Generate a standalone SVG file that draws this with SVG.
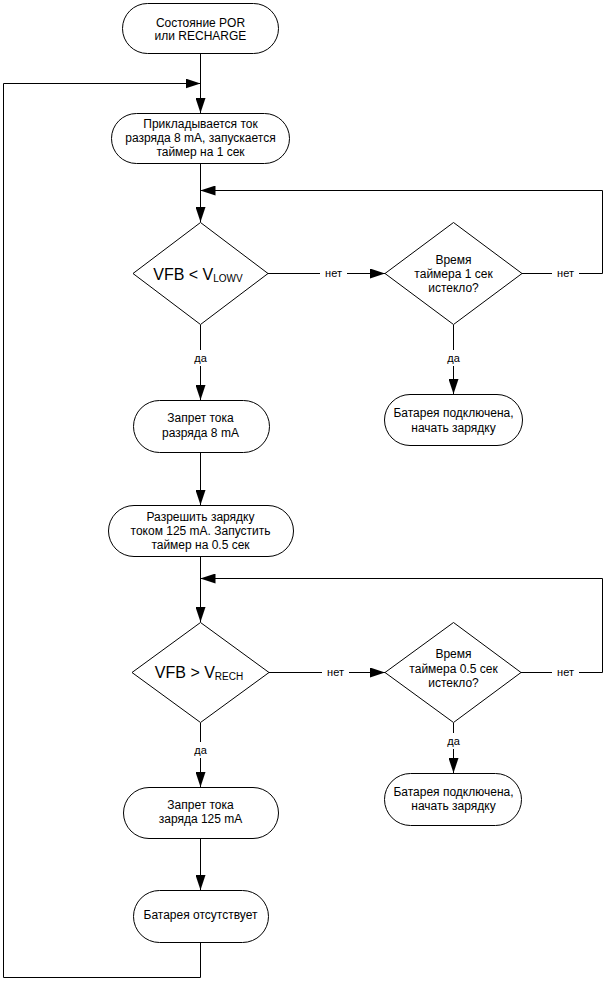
<svg xmlns="http://www.w3.org/2000/svg" width="605" height="981" viewBox="0 0 605 981">
<style>
.n{fill:#fff;stroke:#000;stroke-width:1}
.t{font-family:"Liberation Sans",Arial,sans-serif;font-size:12px;fill:#000;text-anchor:middle}
.big{font-size:16px}
.sub{font-size:10px}
.l{font-family:"Liberation Sans",Arial,sans-serif;font-size:11px;fill:#000;text-anchor:middle}
.c{fill:none;stroke:#000;stroke-width:1}
.bg{fill:#fff;stroke:none}
</style>
<defs>
<marker id="ah" markerUnits="userSpaceOnUse" markerWidth="15" markerHeight="10" refX="15" refY="5" orient="auto">
<path d="M0,0 L15,5 L0,10 z" fill="#000"/>
</marker>
</defs>
<rect width="605" height="981" fill="#fff"/>
<g id="connectors">
<path class="c" d="M200.5,53 V113" marker-end="url(#ah)"/>
<path class="c" d="M200.5,942 V977.5 H3.5 V83.5 H200.5" marker-end="url(#ah)"/>
<path class="c" d="M200.5,163 V222" marker-end="url(#ah)"/>
<path class="c" d="M268,273.5 H385" marker-end="url(#ah)"/>
<path class="c" d="M522,273.5 H602.5 V190.5 H200.5" marker-end="url(#ah)"/>
<path class="c" d="M200.5,325 V400" marker-end="url(#ah)"/>
<path class="c" d="M453.5,325 V394" marker-end="url(#ah)"/>
<path class="c" d="M200.5,452 V505" marker-end="url(#ah)"/>
<path class="c" d="M200.5,556 V622" marker-end="url(#ah)"/>
<path class="c" d="M269,672.5 H385" marker-end="url(#ah)"/>
<path class="c" d="M521,672.5 H602.5 V578.5 H200.5" marker-end="url(#ah)"/>
<path class="c" d="M200.5,723 V787" marker-end="url(#ah)"/>
<path class="c" d="M453.5,723 V773" marker-end="url(#ah)"/>
<path class="c" d="M200.5,838 V890" marker-end="url(#ah)"/>
<rect class="bg" x="320" y="266" width="27" height="14"/>
<text class="l" x="333.5" y="277">нет</text>
<rect class="bg" x="552" y="266" width="27" height="14"/>
<text class="l" x="565.5" y="277">нет</text>
<rect class="bg" x="190" y="350" width="22" height="16"/>
<text class="l" x="200.5" y="362">да</text>
<rect class="bg" x="443" y="350" width="22" height="16"/>
<text class="l" x="453.5" y="362">да</text>
<rect class="bg" x="322" y="665" width="27" height="14"/>
<text class="l" x="335.5" y="676">нет</text>
<rect class="bg" x="552" y="665" width="27" height="14"/>
<text class="l" x="565.5" y="676">нет</text>
<rect class="bg" x="190" y="742" width="22" height="16"/>
<text class="l" x="200.5" y="754">да</text>
<rect class="bg" x="443" y="733" width="22" height="16"/>
<text class="l" x="453.5" y="745">да</text>
</g>
<g id="n1">
<rect class="n" x="122.5" y="3.5" width="156" height="50" rx="25"/>
<text class="t" x="200.5" y="27">Состояние POR</text>
<text class="t" x="200.5" y="40">или RECHARGE</text>
</g>
<g id="n2">
<rect class="n" x="111.5" y="113.5" width="178" height="50" rx="25"/>
<text class="t" x="200.5" y="128">Прикладывается ток</text>
<text class="t" x="200.5" y="142">разряда 8 mA, запускается</text>
<text class="t" x="200.5" y="156">таймер на 1 сек</text>
</g>
<g id="d1">
<polygon class="n" points="200.5,222.5 268,273.5 200.5,324.5 133,273.5"/>
<text class="t big" x="198" y="280">VFB &lt; V<tspan class="sub" dy="2">LOWV</tspan></text>
</g>
<g id="d2">
<polygon class="n" points="453.5,222.5 522,273.5 453.5,324.5 385,273.5"/>
<text class="t" x="453.5" y="264">Время</text>
<text class="t" x="453.5" y="278">таймера 1 сек</text>
<text class="t" x="453.5" y="292">истекло?</text>
</g>
<g id="n3">
<rect class="n" x="133.5" y="400.5" width="136" height="52" rx="26"/>
<text class="t" x="200.5" y="422">Запрет тока</text>
<text class="t" x="200.5" y="437">разряда 8 mA</text>
</g>
<g id="n4">
<rect class="n" x="384.5" y="394.5" width="138" height="51" rx="25.5"/>
<text class="t" x="453.5" y="417">Батарея подключена,</text>
<text class="t" x="453.5" y="432">начать зарядку</text>
</g>
<g id="n5">
<rect class="n" x="108.5" y="505.5" width="185" height="51" rx="25.5"/>
<text class="t" x="200.5" y="521">Разрешить зарядку</text>
<text class="t" x="200.5" y="535">током 125 mA. Запустить</text>
<text class="t" x="200.5" y="549">таймер на 0.5 сек</text>
</g>
<g id="d3">
<polygon class="n" points="200.5,622.5 269,672.5 200.5,722.5 132,672.5"/>
<text class="t big" x="199" y="678">VFB &gt; V<tspan class="sub" dy="2">RECH</tspan></text>
</g>
<g id="d4">
<polygon class="n" points="453.5,622.5 521,672.5 453.5,722.5 385,672.5"/>
<text class="t" x="453.5" y="658">Время</text>
<text class="t" x="453.5" y="673">таймера 0.5 сек</text>
<text class="t" x="453.5" y="687">истекло?</text>
</g>
<g id="n6">
<rect class="n" x="384.5" y="773.5" width="137" height="52" rx="26"/>
<text class="t" x="453.5" y="796">Батарея подключена,</text>
<text class="t" x="453.5" y="810">начать зарядку</text>
</g>
<g id="n7">
<rect class="n" x="123.5" y="787.5" width="155" height="51" rx="25.5"/>
<text class="t" x="200.5" y="809">Запрет тока</text>
<text class="t" x="200.5" y="823">заряда 125 mA</text>
</g>
<g id="n8">
<rect class="n" x="133.5" y="890.5" width="135" height="52" rx="26"/>
<text class="t" x="200.5" y="919">Батарея отсутствует</text>
</g>
</svg>
